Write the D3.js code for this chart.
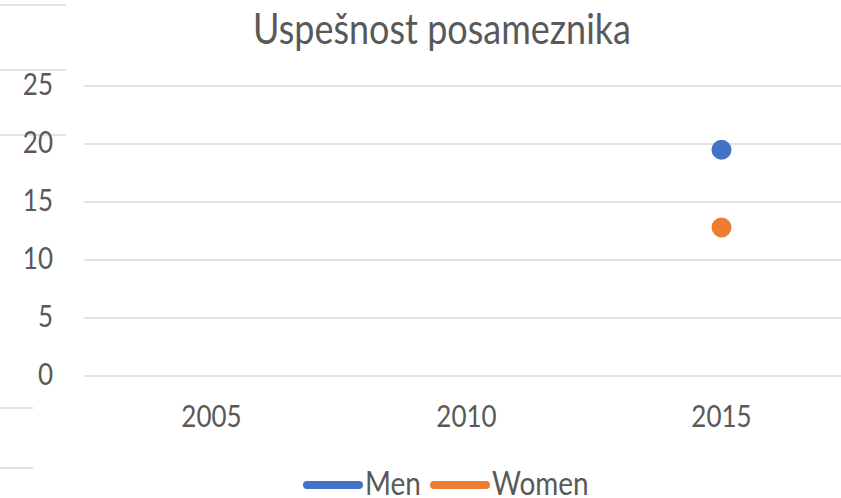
<!DOCTYPE html>
<html>
<head>
<meta charset="utf-8">
<script src="https://cdn.jsdelivr.net/npm/d3@7"></script>
<style>
  body { margin: 0; background: #fff; }
  text { font-family: Lato, "Open Sans", sans-serif; fill: #595959; }
</style>
</head>
<body>
<script>
// podatki
var leta = ["2005", "2010", "2015"];
var serije = ["Men", "Women"];
var barve = ["#4472C4", "#ED7D31"];
var vrednostiMen = [null, null, 19.5];
var vrednostiWomen = [null, null, 12.8];
var yTicks = [0, 5, 10, 15, 20, 25];

var width = 841, height = 498;
var margen = { levo: 84, desno: -8, zgoraj: 86, spodaj: 122 };
var razteg = 1.18; // besedilo je v izvirniku nekoliko raztegnjeno navpično

var svg = d3.select("body").append("svg")
    .attr("width", width)
    .attr("height", height);

function poz(x, y) { return "translate(" + x + "," + y + ") scale(1," + razteg + ")"; }

// kratke črte ob levem robu (ozadje)
var ozadje = [[5, 66], [70, 66], [135, 66], [408, 33], [468, 33]];
svg.selectAll("line.ozadje")
    .data(ozadje)
    .join("line")
    .attr("class", "ozadje")
    .attr("x1", 0).attr("x2", d => d[1])
    .attr("y1", d => d[0]).attr("y2", d => d[0])
    .attr("stroke", "#d9d9d9").attr("stroke-width", 1.3);

var x = d3.scaleBand()
    .domain(leta)
    .range([margen.levo, width - margen.desno]);

var y = d3.scaleLinear()
    .domain([0, 25])
    .range([height - margen.spodaj, margen.zgoraj]);

// mreža
svg.selectAll("line.mreza")
    .data(yTicks)
    .join("line")
    .attr("class", "mreza")
    .attr("x1", margen.levo).attr("x2", width)
    .attr("y1", d => y(d)).attr("y2", d => y(d))
    .attr("stroke", "#d9d9d9").attr("stroke-width", 1.3);

// oznake osi y
svg.selectAll("text.yos")
    .data(yTicks)
    .join("text")
    .attr("class", "yos")
    .attr("transform", d => poz(53, y(d) + 9))
    .attr("text-anchor", "end")
    .style("font-size", "26px")
    .text(d => d);

// oznake osi x
svg.selectAll("text.xos")
    .data(leta)
    .join("text")
    .attr("class", "xos")
    .attr("transform", d => poz(x(d) + x.bandwidth() / 2, 427))
    .attr("text-anchor", "middle")
    .style("font-size", "26px")
    .text(d => d);

// točke
var podatki = [vrednostiMen, vrednostiWomen];
podatki.forEach(function (vals, i) {
    svg.selectAll("circle.s" + i)
        .data(leta.map((l, j) => ({ leto: l, v: vals[j] })).filter(d => d.v != null))
        .join("circle")
        .attr("class", "s" + i)
        .attr("cx", d => x(d.leto) + x.bandwidth() / 2)
        .attr("cy", d => y(d.v))
        .attr("r", 10)
        .attr("fill", barve[i]);
});

// naslov
svg.append("text")
    .attr("transform", poz(442, 44))
    .attr("text-anchor", "middle")
    .style("font-size", "36px")
    .text("Uspešnost posameznika");

// legenda
var legenda = [{ ime: "Men", x: 303 }, { ime: "Women", x: 430 }];
var lg = svg.selectAll("g.leg")
    .data(legenda)
    .join("g")
    .attr("class", "leg")
    .attr("transform", d => "translate(" + d.x + ",485)");
lg.append("line")
    .attr("x1", 4).attr("x2", 56)
    .attr("stroke", (d, i) => barve[i])
    .attr("stroke-width", 8)
    .attr("stroke-linecap", "round");
lg.append("text")
    .attr("transform", poz(62, 10))
    .style("font-size", "28px")
    .text(d => d.ime);
</script>
</body>
</html>
